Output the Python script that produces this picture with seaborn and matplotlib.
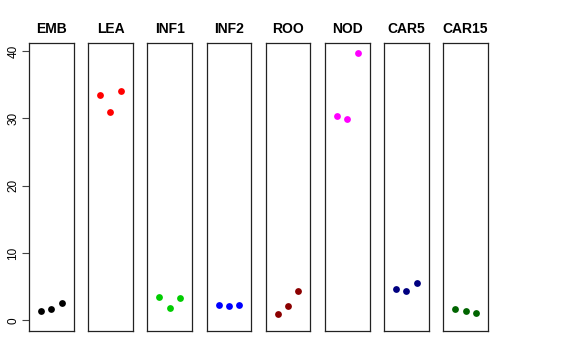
import matplotlib
matplotlib.use("Agg")
import matplotlib.pyplot as plt
import pandas as pd
import seaborn as sns

# tissues, one panel each, three replicates per panel
TISSUES = ["EMB", "LEA", "INF1", "INF2", "ROO", "NOD", "CAR5", "CAR15"]
COLORS = ["#000000", "#FF0000", "#00CD00", "#0000FF",
          "#8B0000", "#FF00FF", "#000080", "#006400"]
REPLICATES = [1, 2, 3]

EMB = [1.43, 1.72, 2.53]
LEA = [33.46, 30.87, 34.05]
INF1 = [3.42, 1.78, 3.32]
INF2 = [2.23, 2.17, 2.27]
ROO = [0.89, 2.13, 4.31]
NOD = [30.33, 29.93, 39.65]
CAR5 = [4.70, 4.40, 5.55]
CAR15 = [1.68, 1.34, 1.13]

VALUES = [EMB, LEA, INF1, INF2, ROO, NOD, CAR5, CAR15]
Y_TICKS = [0, 10, 20, 30, 40]

rows = []
for tissue, vals in zip(TISSUES, VALUES):
    for rep, v in zip(REPLICATES, vals):
        rows.append({"tissue": tissue, "rep": rep, "value": v})
df = pd.DataFrame(rows)

sns.set_style("white")
plt.rcParams["font.family"] = ["Liberation Sans", "DejaVu Sans"]
plt.rcParams["text.color"] = "black"
plt.rcParams["ytick.color"] = "#444444"
plt.rcParams["ytick.labelcolor"] = "black"

fig, axes = plt.subplots(1, len(TISSUES), figsize=(5.76, 3.6), dpi=100, sharey=True)
fig.subplots_adjust(left=0.0503, right=0.847, bottom=0.0806, top=0.881, wspace=0.327)

for i, (ax, tissue, color) in enumerate(zip(axes, TISSUES, COLORS)):
    sub = df[df["tissue"] == tissue]
    sns.scatterplot(data=sub, x="rep", y="value", color=color, s=24,
                    linewidth=0, ax=ax, legend=False)
    ax.set_xlim(-0.16, 4.16)
    ax.set_ylim(-1.59, 41.2)
    ax.set_xticks([])
    ax.set_xlabel("")
    ax.set_ylabel("")
    ax.set_title(tissue, fontsize=10, fontweight="bold", pad=7, color="black")
    for sp in ax.spines.values():
        sp.set_visible(True)
        sp.set_color("#222222")
        sp.set_linewidth(0.9)
    if i == 0:
        ax.set_yticks(Y_TICKS)
        ax.set_yticklabels([str(t) for t in Y_TICKS], rotation=90, va="center",
                           fontsize=8.5, color="black")
        ax.tick_params(axis="y", left=True, length=5, width=0.8,
                       color="#444444", pad=2)
    else:
        ax.tick_params(axis="y", left=False, labelleft=False)

fig.savefig("out.png", dpi=100)
